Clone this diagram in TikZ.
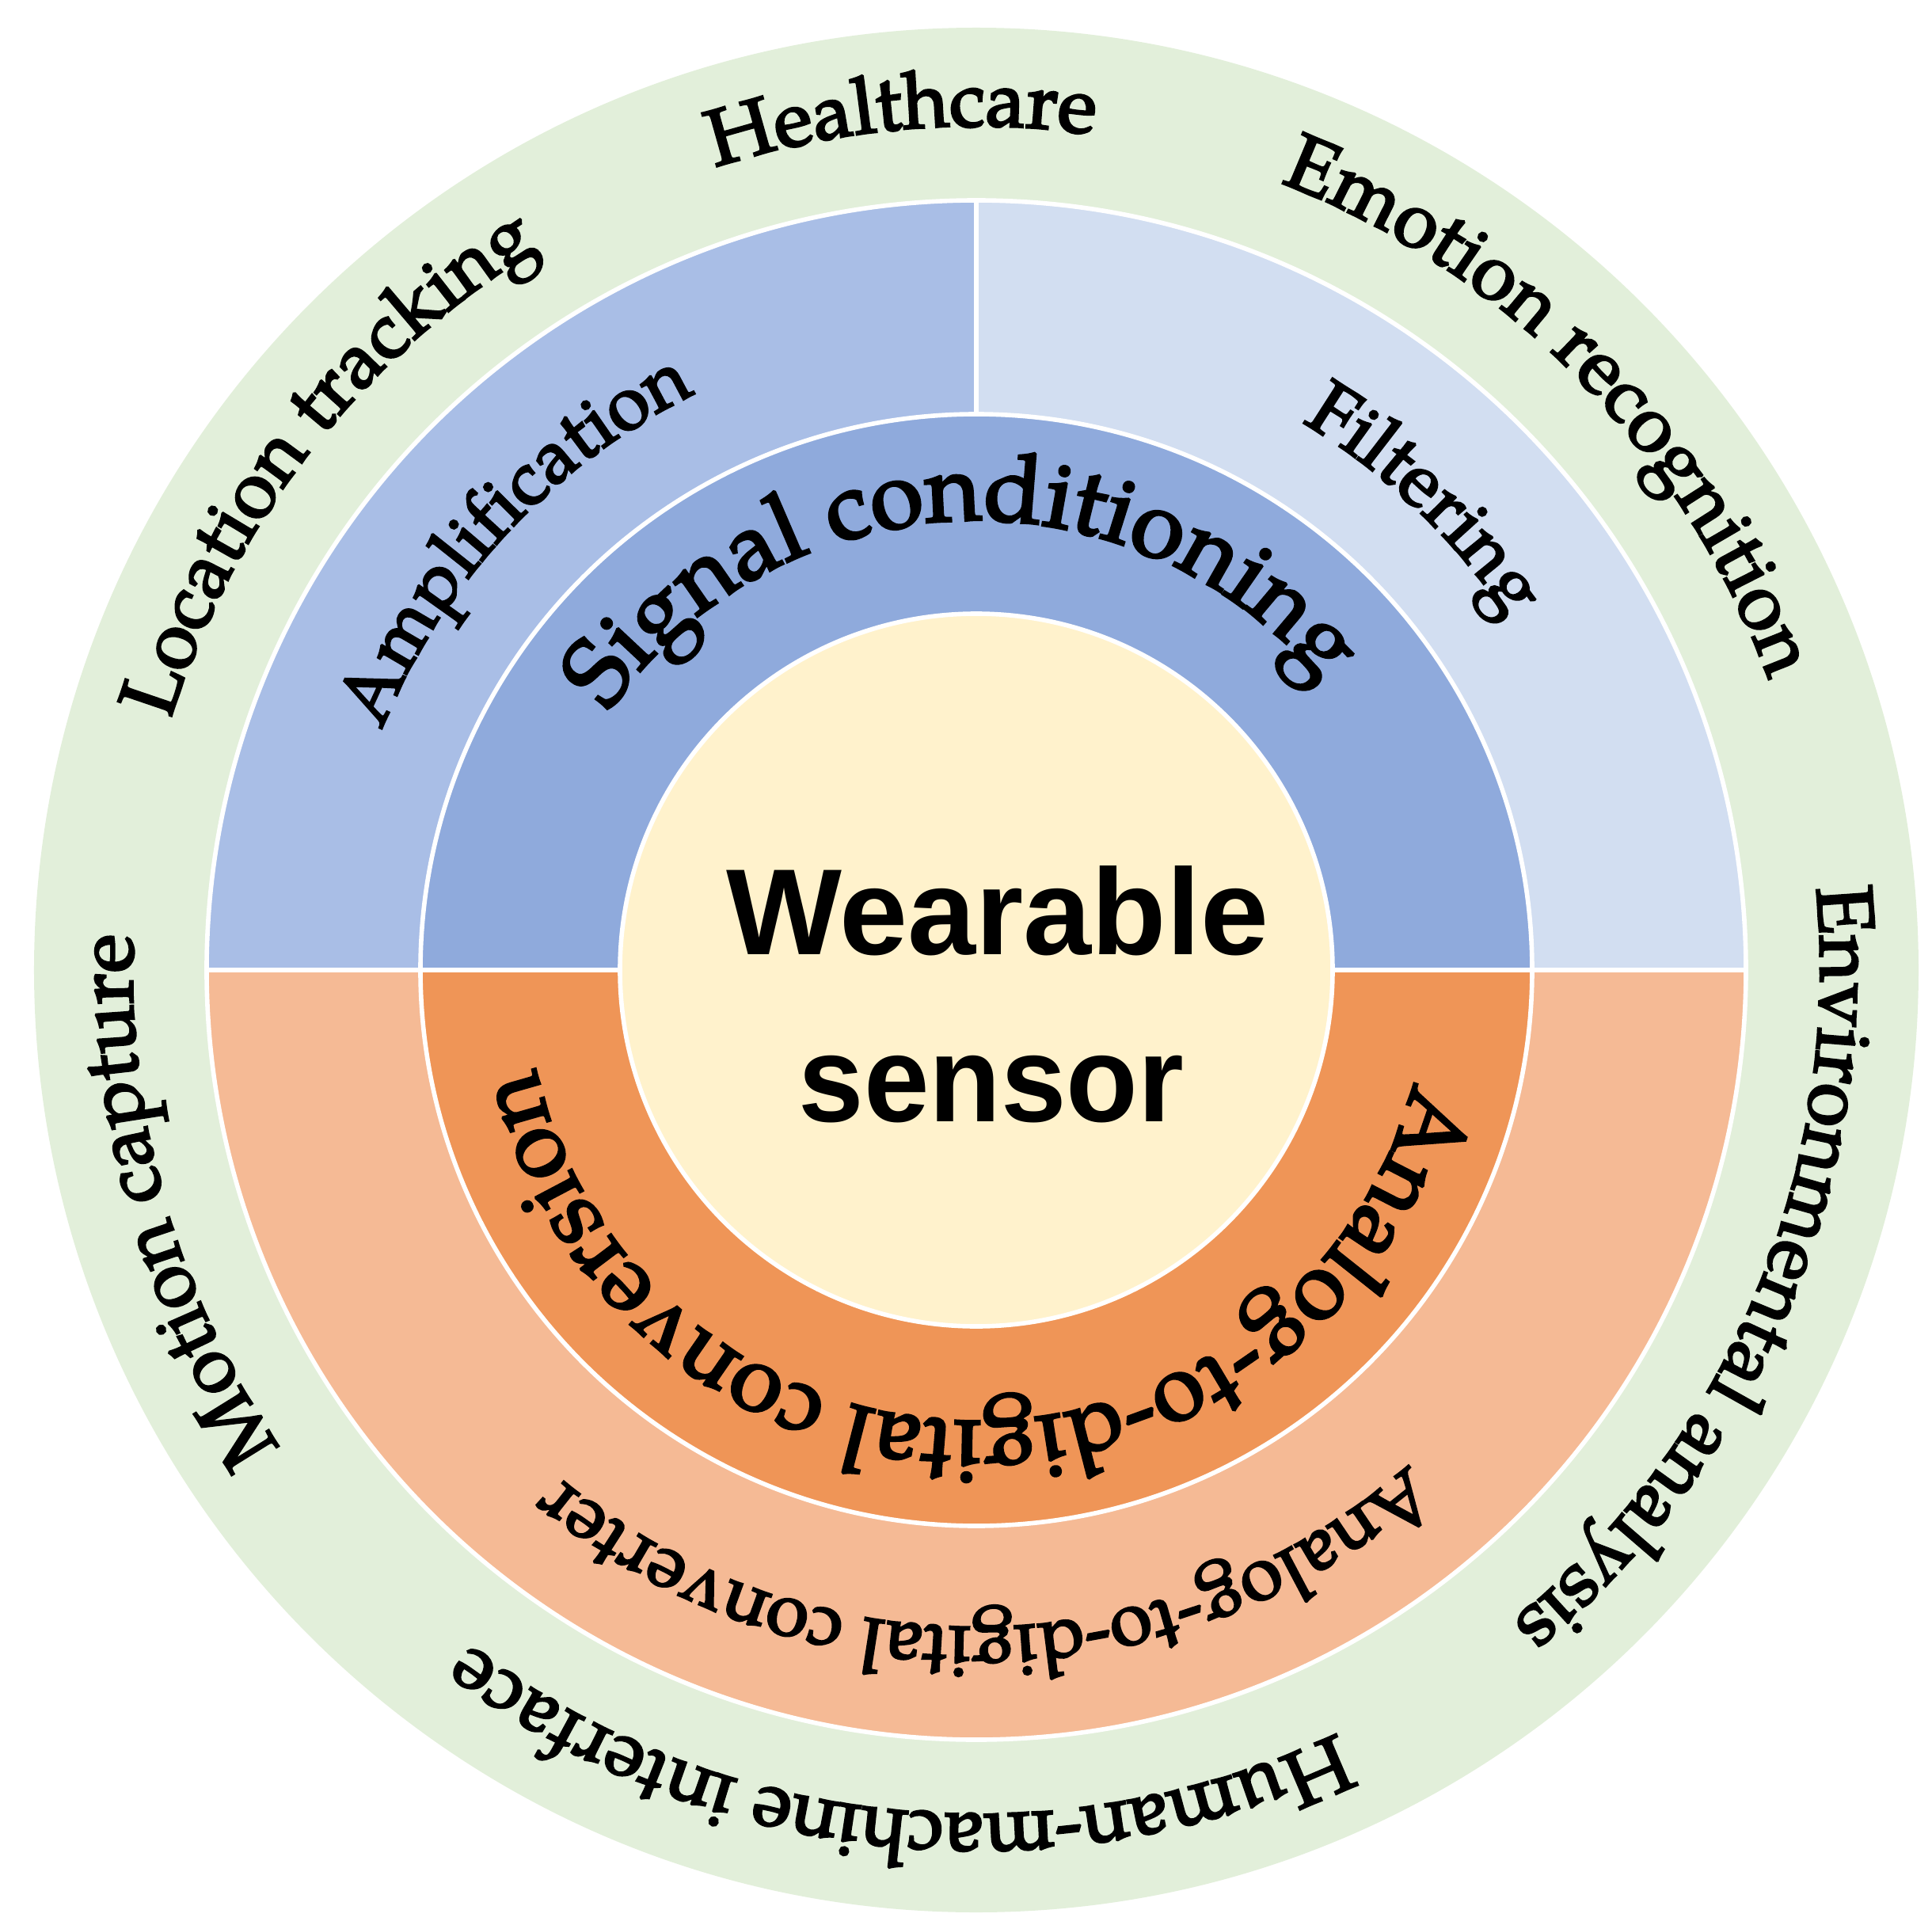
\documentclass[tikz,border=0pt]{standalone}
\usepackage{fontspec}
\IfFontExistsTF{texgyrepagella-regular.otf}{\setmainfont{texgyrepagella-regular.otf}[FakeBold=3]}{\setmainfont{Liberation Serif}}
\newfontfamily\wsfont{Liberation Sans}
\usetikzlibrary{decorations.text}
\definecolor{cgreen}{HTML}{E2EFDA}
\definecolor{cblueA}{HTML}{A9BEE6}
\definecolor{cblueB}{HTML}{D2DEF1}
\definecolor{cblueC}{HTML}{8FAADC}
\definecolor{corA}{HTML}{EF9557}
\definecolor{corB}{HTML}{F5BA95}
\definecolor{cyel}{HTML}{FFF2CC}
\newcommand\arctext[5]{%
  \path[decorate,decoration={text along path,text align=center,
    text={|\fontsize{#4}{#4}\selectfont|#5}}]
    ({#1+#2}:#3) arc[start angle={#1+#2}, end angle={#1-#2}, radius=#3];}
\begin{document}
\begin{tikzpicture}[sector/.style={draw=white,line width=1.6pt,line join=round}]
\useasboundingbox (-12.33,-12.05) rectangle (12.07,12.25);
\def\Ra{11.90}\def\Rb{9.72}\def\Rc{7.02}\def\Rd{4.50}
% rings
\fill[cgreen] (0,0) circle[radius=\Ra];
\path[sector,fill=cblueA] (0,0) -- (180:\Rb) arc[start angle=180,end angle=90,radius=\Rb] -- cycle;
\path[sector,fill=cblueB] (0,0) -- (90:\Rb) arc[start angle=90,end angle=0,radius=\Rb] -- cycle;
\path[sector,fill=corB] (0,0) -- (0:\Rb) arc[start angle=0,end angle=-180,radius=\Rb] -- cycle;
\path[sector,fill=cblueC] (\Rc,0) arc[start angle=0,end angle=180,radius=\Rc] -- cycle;
\path[sector,fill=corA] (\Rc,0) arc[start angle=0,end angle=-180,radius=\Rc] -- cycle;
\path[sector,fill=cyel] (0,0) circle[radius=\Rd];
% centre
\node[anchor=base,inner sep=0pt,font=\wsfont\bfseries\fontsize{44}{50}\selectfont] (w1) at (0.27,0.20) {Wearable};
\node[anchor=base,inner sep=0pt,font=\wsfont\bfseries\fontsize{44}{50}\selectfont,xscale=0.96] (w2) at (0.19,-1.91) {sensor};
% outer ring texts
\arctext{95}{20}{10.66}{28.5}{Healthcare}
\arctext{142}{30}{10.66}{28.5}{Location tracking}
\arctext{44.5}{35}{10.66}{28.5}{Emotion recognition}
\arctext{-22.5}{40}{10.66}{28.5}{Environmental analysis}
\arctext{-95.8}{45}{10.66}{28.5}{Human-machine interface}
\arctext{196}{28}{10.66}{28.5}{Motion capture}
% middle ring texts
\arctext{137}{30}{8.10}{27.5}{Amplification}
\arctext{46.3}{22}{8.05}{27.5}{Filtering}
\arctext{-89.2}{55}{8.30}{27.5}{Analog-to-digital converter}
% inner ring texts
\arctext{92.3}{70}{5.68}{34.5}{Signal conditioning}
\arctext{-90.9}{88}{5.70}{34}{Analog-to-digital conversion}
\end{tikzpicture}
\end{document}
